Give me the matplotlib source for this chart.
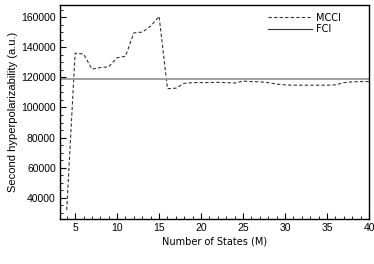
import matplotlib
matplotlib.use('Agg')
import matplotlib.pyplot as plt
from matplotlib.ticker import MultipleLocator

# data
states = list(range(4, 41))
mcci = [32000, 136000, 135500, 125500, 126500, 127000, 133000, 134000,
        149500, 150000, 154000, 160500, 112500, 112800, 116000, 116500,
        116500, 116500, 116700, 116500, 116200, 117500, 117200, 117000,
        116500, 115500, 115000, 114800, 114800, 114800, 114800, 114800,
        115000, 116500, 117000, 117200, 117200]
fci = 119000

fig = plt.figure(figsize=(3.74, 2.64), dpi=100)
ax = fig.add_axes([60 / 374, 45 / 264, 309 / 374, 214 / 264])

ax.plot(states, mcci, color='#333333', linestyle='--', linewidth=0.8,
        dashes=(3, 2), label='MCCI')
ax.axhline(fci, color='#999999', linewidth=1.3)
# legend proxy for FCI is dark in the reference
ax.plot([], [], color='#333333', linewidth=0.8, label='FCI')

ax.set_xlim(3.2, 40)
ax.set_ylim(26000, 168000)
ax.xaxis.set_major_locator(MultipleLocator(5))
ax.xaxis.set_minor_locator(MultipleLocator(1))
ax.yaxis.set_major_locator(MultipleLocator(20000))
ax.yaxis.set_minor_locator(MultipleLocator(5000))
ax.tick_params(which='both', direction='in', top=False, right=False,
               labelsize=7.5, pad=3)
ax.tick_params(which='major', length=4, width=0.8)
ax.tick_params(which='minor', length=2, width=0.6)
for lab in ax.get_xticklabels() + ax.get_yticklabels():
    lab.set_family('Liberation Sans')
for s in ax.spines.values():
    s.set_linewidth(1.0)

ax.set_xlabel('Number of States (M)', fontsize=7, labelpad=2.5)
ax.set_ylabel('Second hyperpolarizability (a.u.)', fontsize=8,
              family='Liberation Sans', labelpad=2)

leg = ax.legend(loc='upper right', bbox_to_anchor=(0.935, 1.0), frameon=False,
                fontsize=7, handlelength=4.6, handletextpad=0.4,
                labelspacing=0.15, borderaxespad=0.4)

fig.savefig('out.png', dpi=100)
